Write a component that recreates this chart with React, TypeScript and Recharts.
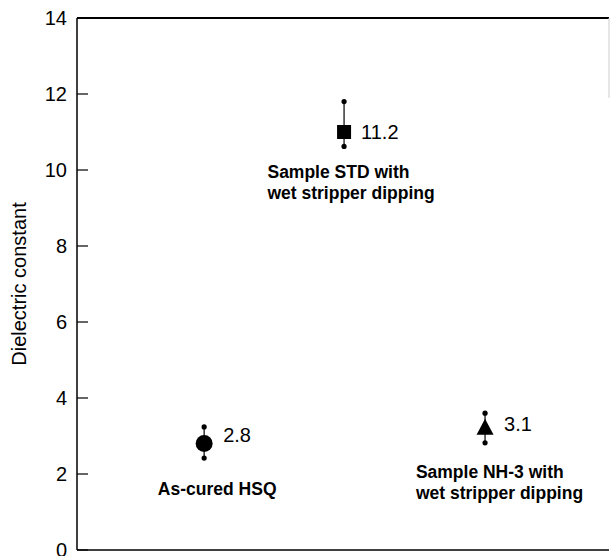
import React from 'react';
import { ScatterChart, Scatter, XAxis, YAxis, ErrorBar, ReferenceLine } from 'recharts';

// ---- data ----
const sampleNames = ['As-cured HSQ', 'Sample STD with wet stripper dipping', 'Sample NH-3 with wet stripper dipping'];
const sampleX = [0.239, 0.502, 0.767];
const dielectricMean = [2.8, 11.0, 3.22];
const errorLow = [0.38, 0.38, 0.4];
const errorHigh = [0.44, 0.8, 0.38];
const valueLabels = ['2.8', '11.2', '3.1'];
const markerShapes = ['circle', 'square', 'triangle'];
const yTicks = [0, 2, 4, 6, 8, 10, 12, 14];

const noteLines = [['As-cured HSQ'], ['Sample STD with', 'wet stripper dipping'], ['Sample NH-3 with', 'wet stripper dipping']];
const noteX = [0.152, 0.358, 0.637];
const noteY = [1.45, 9.8, 1.9];

// ---- layout/style ----
const FONT = '"Liberation Sans", Arial, Helvetica, sans-serif';
const labelDx = [19, 17, 19];
const labelDy = [-9, 0, -4];

const points = sampleNames.map((name, i) => ({
  name,
  x: sampleX[i],
  y: dielectricMean[i],
  err: [errorLow[i], errorHigh[i]],
  label: valueLabels[i],
  shape: markerShapes[i],
  i,
}));

const ends = points.flatMap((p) => [
  { x: p.x, y: p.y - p.err[0] },
  { x: p.x, y: p.y + p.err[1] },
]);

const notes = noteLines.map((lines, i) => ({ x: noteX[i], y: noteY[i], lines }));

const Marker = (props: any) => {
  const { cx, cy, payload } = props;
  let m: React.ReactNode = null;
  if (payload.shape === 'circle') m = <circle cx={cx} cy={cy} r={8.5} fill="#000" />;
  else if (payload.shape === 'square') m = <rect x={cx - 7} y={cy - 7} width={14} height={14} fill="#000" />;
  else m = <polygon points={`${cx},${cy - 9} ${cx - 8.5},${cy + 7} ${cx + 8.5},${cy + 7}`} fill="#000" />;
  return (
    <g>
      {m}
      <text
        x={cx + labelDx[payload.i]}
        y={cy + labelDy[payload.i]}
        dominantBaseline="central"
        fontSize={20}
        fontFamily={FONT}
        fill="#000"
      >
        {payload.label}
      </text>
    </g>
  );
};

const EndDot = (props: any) => <circle cx={props.cx} cy={props.cy} r={2.6} fill="#000" />;

const Note = (props: any) => {
  const { cx, cy, payload } = props;
  return (
    <text x={cx} y={cy} fontSize={17.5} fontWeight="bold" fontFamily={FONT} fill="#000">
      {payload.lines.map((l: string, k: number) => (
        <tspan key={k} x={cx} dy={k === 0 ? 0 : 21}>
          {l}
        </tspan>
      ))}
    </text>
  );
};

export default function App() {
  return (
    <div style={{ position: 'absolute', left: 0, top: 0, background: '#fff' }}>
      <ScatterChart width={610} height={556} margin={{ top: 18, right: 1, left: 0, bottom: 0 }}>
        <XAxis
          type="number"
          dataKey="x"
          domain={[0, 1]}
          tick={false}
          tickLine={false}
          height={6}
          axisLine={{ stroke: '#000', strokeWidth: 1.5 }}
          allowDataOverflow
        />
        <YAxis
          type="number"
          dataKey="y"
          domain={[0, 14]}
          ticks={yTicks}
          interval={0}
          width={77}
          tickSize={-11}
          tickMargin={21}
          axisLine={{ stroke: '#000', strokeWidth: 1.5 }}
          tickLine={{ stroke: '#000', strokeWidth: 1.2 }}
          tick={{ fill: '#000', fontSize: 20, fontFamily: FONT }}
          allowDataOverflow
          label={{
            value: 'Dielectric constant',
            angle: -90,
            position: 'center',
            dx: -19.5,
            dy: 0,
            style: { fontSize: 20, fontFamily: FONT, fill: '#000' },
          }}
        />
        <ReferenceLine y={14} stroke="#000" strokeWidth={2} ifOverflow="extendDomain" />
        <ReferenceLine
          segment={[
            { x: 1, y: 14 },
            { x: 1, y: 11.9 },
          ]}
          stroke="#ccc"
          strokeWidth={1}
        />
        <Scatter data={points} shape={<Marker />} isAnimationActive={false}>
          <ErrorBar dataKey="err" direction="y" width={0} stroke="#000" strokeWidth={1.2} isAnimationActive={false} />
        </Scatter>
        <Scatter data={ends} shape={<EndDot />} isAnimationActive={false} />
        <Scatter data={notes} shape={<Note />} isAnimationActive={false} />
      </ScatterChart>
    </div>
  );
}
